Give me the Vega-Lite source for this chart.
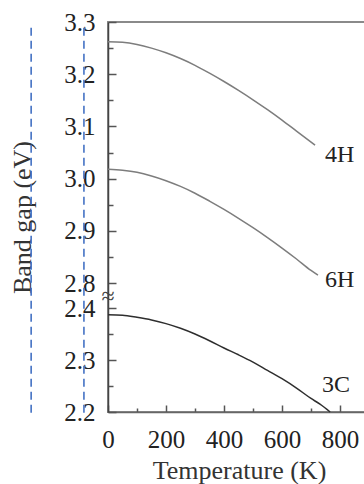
{
  "$schema": "https://vega.github.io/schema/vega-lite/v6.json",
  "autosize": {"type": "none"},
  "padding": {"left": 108, "top": 22, "right": 0, "bottom": 72},
  "width": 262,
  "height": 390,
  "config": {
    "font": "Liberation Serif",
    "view": {"stroke": "#8a8a8a", "strokeWidth": 2}
  },
  "datasets": {
    "curves": [
      {"series": "4H", "T": 0, "Eg": 3.262}, {"series": "4H", "T": 50, "Eg": 3.261}, {"series": "4H", "T": 100, "Eg": 3.257},
      {"series": "4H", "T": 150, "Eg": 3.250}, {"series": "4H", "T": 200, "Eg": 3.241}, {"series": "4H", "T": 250, "Eg": 3.230},
      {"series": "4H", "T": 300, "Eg": 3.217}, {"series": "4H", "T": 350, "Eg": 3.202}, {"series": "4H", "T": 400, "Eg": 3.186},
      {"series": "4H", "T": 450, "Eg": 3.169}, {"series": "4H", "T": 500, "Eg": 3.151}, {"series": "4H", "T": 550, "Eg": 3.132},
      {"series": "4H", "T": 600, "Eg": 3.112}, {"series": "4H", "T": 650, "Eg": 3.091}, {"series": "4H", "T": 714, "Eg": 3.064},
      {"series": "6H", "T": 0, "Eg": 3.018}, {"series": "6H", "T": 50, "Eg": 3.016}, {"series": "6H", "T": 100, "Eg": 3.012},
      {"series": "6H", "T": 150, "Eg": 3.005}, {"series": "6H", "T": 200, "Eg": 2.996}, {"series": "6H", "T": 250, "Eg": 2.985},
      {"series": "6H", "T": 300, "Eg": 2.972}, {"series": "6H", "T": 350, "Eg": 2.957}, {"series": "6H", "T": 400, "Eg": 2.941},
      {"series": "6H", "T": 450, "Eg": 2.924}, {"series": "6H", "T": 500, "Eg": 2.906}, {"series": "6H", "T": 550, "Eg": 2.887},
      {"series": "6H", "T": 600, "Eg": 2.867}, {"series": "6H", "T": 650, "Eg": 2.846}, {"series": "6H", "T": 700, "Eg": 2.824},
      {"series": "6H", "T": 724, "Eg": 2.815},
      {"series": "3C", "T": 0, "Eg": 2.387}, {"series": "3C", "T": 50, "Eg": 2.386}, {"series": "3C", "T": 100, "Eg": 2.382},
      {"series": "3C", "T": 150, "Eg": 2.377}, {"series": "3C", "T": 200, "Eg": 2.370}, {"series": "3C", "T": 250, "Eg": 2.361},
      {"series": "3C", "T": 300, "Eg": 2.350}, {"series": "3C", "T": 350, "Eg": 2.337}, {"series": "3C", "T": 400, "Eg": 2.323},
      {"series": "3C", "T": 450, "Eg": 2.310}, {"series": "3C", "T": 500, "Eg": 2.296}, {"series": "3C", "T": 550, "Eg": 2.280},
      {"series": "3C", "T": 600, "Eg": 2.264}, {"series": "3C", "T": 650, "Eg": 2.246}, {"series": "3C", "T": 700, "Eg": 2.226},
      {"series": "3C", "T": 731, "Eg": 2.215}, {"series": "3C", "T": 766, "Eg": 2.200}
    ],
    "labels": [
      {"series": "4H", "T": 748, "Eg": 3.045},
      {"series": "6H", "T": 748, "Eg": 2.806},
      {"series": "3C", "T": 738, "Eg": 2.252}
    ],
    "guides": [
      {"T": -265, "top": 3.289, "bottom": 2.196},
      {"T": -83, "top": 3.289, "bottom": 2.196}
    ],
    "breaks": [
      {"T": 0, "Eg": 2.576, "mark": "≈"}
    ]
  },
  "layer": [
    {
      "data": {"name": "curves"},
      "mark": {"type": "line", "interpolate": "monotone"},
      "encoding": {
        "x": {
          "field": "T", "type": "quantitative",
          "scale": {"domain": [0, 903.45], "nice": false, "zero": false},
          "axis": {
            "title": "Temperature (K)",
            "values": [0, 100, 200, 300, 400, 500, 600, 700, 800],
            "tickCount": 40,
            "labelExpr": "datum.value % 200 == 100 ? '' : datum.label",
            "labelFlush": false,
            "labelOverlap": false,
            "labelFontSize": 25,
            "labelColor": "#222",
            "labelPadding": {"condition": {"test": "datum.value % 200 == 100", "value": 19}, "value": 22},
            "grid": false,
            "tickSize": {"condition": {"test": "datum.value % 200 == 100", "value": -4}, "value": -7},
            "tickColor": "#555",
            "tickWidth": 1.5,
            "domainColor": "#666",
            "domainWidth": 1.5,
            "titleFontSize": 26,
            "titleFontWeight": "normal",
            "titleColor": "#333",
            "titleBaseline": "alphabetic",
            "titleY": 66
          }
        },
        "y": {
          "field": "Eg", "type": "quantitative",
          "scale": {"domain": [2.2, 2.4, 2.8, 3.3], "range": [390, 286, 261, 0], "nice": false, "zero": false},
          "axis": {
            "title": "Band gap (eV)",
            "values": [2.2, 2.25, 2.3, 2.35, 2.4, 2.8, 2.85, 2.9, 2.95, 3.0, 3.05, 3.1, 3.15, 3.2, 3.25, 3.3],
            "tickCount": 40,
            "labelExpr": "round(datum.value * 100) % 10 == 5 ? '' : format(datum.value, '.1f')",
            "labelOverlap": false,
            "labelFlush": false,
            "labelFontSize": 25,
            "labelColor": "#222",
            "labelPadding": {"condition": {"test": "round(datum.value * 100) % 10 == 5", "value": 18}, "value": 21},
            "grid": false,
            "tickSize": {"condition": {"test": "round(datum.value * 100) % 10 == 5", "value": -5}, "value": -8},
            "tickColor": "#555",
            "tickWidth": 1.5,
            "domainColor": "#444",
            "domainWidth": 1.5,
            "titleFontSize": 26,
            "titleFontWeight": "normal",
            "titleColor": "#333",
            "titleBaseline": "alphabetic",
            "titleX": -78
          }
        },
        "detail": {"field": "series"},
        "color": {
          "field": "series", "type": "nominal",
          "scale": {"domain": ["4H", "6H", "3C"], "range": ["#7d7d7d", "#7d7d7d", "#2e2e2e"]},
          "legend": null
        },
        "strokeWidth": {
          "field": "series", "type": "nominal",
          "scale": {"domain": ["4H", "6H", "3C"], "range": [1.5, 1.5, 1.8]},
          "legend": null
        }
      }
    },
    {
      "data": {"name": "labels"},
      "mark": {"type": "text", "align": "left", "baseline": "middle", "fontSize": 24, "color": "#222"},
      "encoding": {
        "x": {"field": "T", "type": "quantitative"},
        "y": {"field": "Eg", "type": "quantitative"},
        "text": {"field": "series"}
      }
    },
    {
      "data": {"name": "breaks"},
      "mark": {"type": "text", "align": "center", "baseline": "middle", "fontSize": 24, "color": "#444"},
      "encoding": {
        "x": {"field": "T", "type": "quantitative"},
        "y": {"field": "Eg", "type": "quantitative"},
        "text": {"field": "mark"}
      }
    },
    {
      "data": {"name": "guides"},
      "mark": {"type": "rule", "color": "#4472C4", "strokeWidth": 1.6, "strokeDash": [8, 5]},
      "encoding": {
        "x": {"field": "T", "type": "quantitative"},
        "y": {"field": "top", "type": "quantitative"},
        "y2": {"field": "bottom"}
      }
    }
  ]
}
